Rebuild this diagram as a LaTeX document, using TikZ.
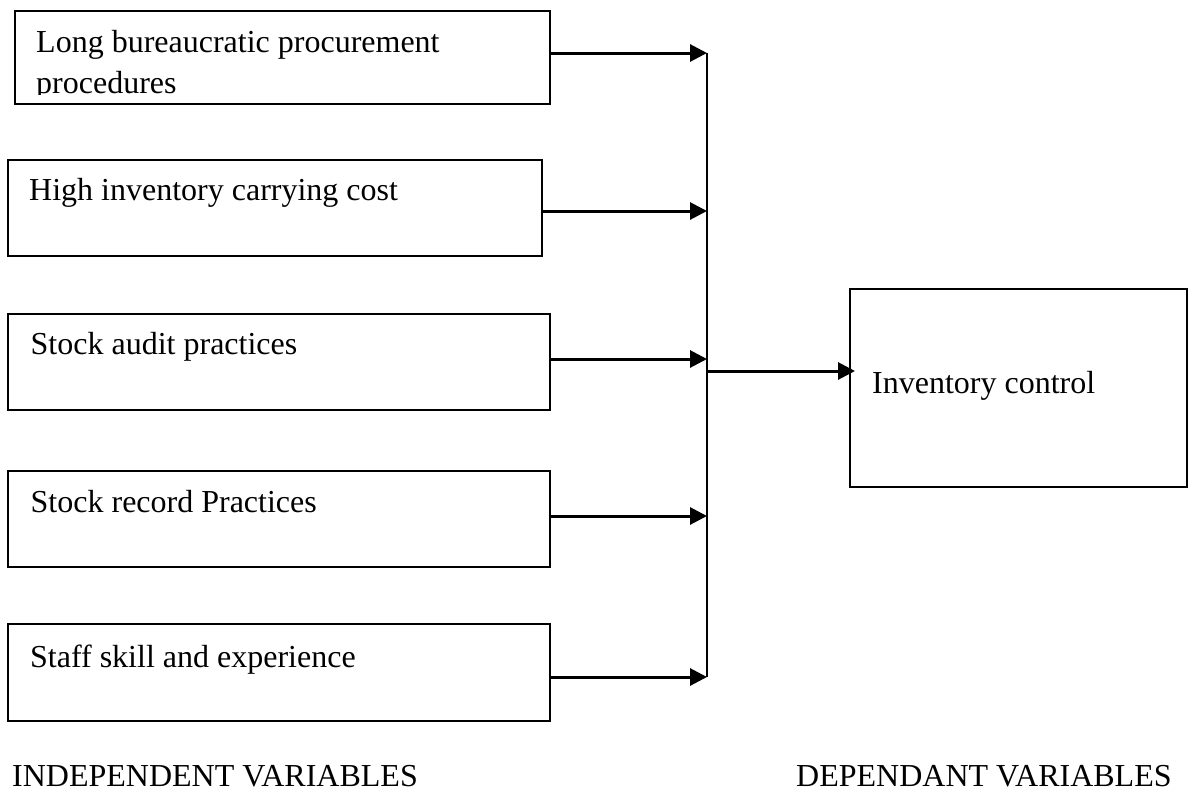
\documentclass[tikz,border=0pt]{standalone}
\usepackage{fontspec}
\setmainfont{Liberation Serif}
\usetikzlibrary{arrows.meta}
\begin{document}
\begin{tikzpicture}[x=1pt,y=-1pt,
  box/.style={draw=black,line width=2pt,rectangle,inner sep=0pt},
  lbl/.style={anchor=base west,inner sep=0pt,font=\fontsize{32}{38}\selectfont},
  arr/.style={line width=3pt,-{Triangle[length=17pt,width=17pt]}},
  bus/.style={line width=2.5pt}]
\useasboundingbox (0,0) rectangle (1189,796);
% boxes
\node[box,minimum width=535pt,minimum height=93pt] (b1) at (282.5,57.5) {};
\node[box,minimum width=534pt,minimum height=96pt] (b2) at (274.5,208) {};
\node[box,minimum width=542pt,minimum height=96pt] (b3) at (278.5,362) {};
\node[box,minimum width=542pt,minimum height=96pt] (b4) at (278.5,519) {};
\node[box,minimum width=542pt,minimum height=97pt] (b5) at (278.5,672.5) {};
\node[box,minimum width=337pt,minimum height=198pt] (rb) at (1018.5,388) {};
% texts
\node[lbl] (t1a) at (36,52) {Long bureaucratic procurement};
\begin{scope}
\clip (0,0) rectangle (1189,94.5);
\node[lbl] (t1b) at (36,93) {procedures};
\end{scope}
\node[lbl] (t2) at (29,200) {High inventory carrying cost};
\node[lbl] (t3) at (30.5,354) {Stock audit practices};
\node[lbl] (t4) at (30.5,512) {Stock record Practices};
\node[lbl] (t5) at (30,667) {Staff skill and experience};
\node[lbl] (tr) at (872,393) {Inventory control};
\node[lbl] (ind) at (12,786) {INDEPENDENT VARIABLES};
\node[lbl] (dep) at (796,786) {DEPENDANT VARIABLES};
% bus
\coordinate (j1) at (707,53);
\coordinate (j2) at (707,211);
\coordinate (j3) at (707,359);
\coordinate (j4) at (707,516);
\coordinate (j5) at (707,677);
\coordinate (jo) at (707,371);
\draw[bus] (j1) -- (j5);
\draw[arr] (b1.east |- j1) -- (j1);
\draw[arr] (b2.east |- j2) -- (j2);
\draw[arr] (b3.east |- j3) -- (j3);
\draw[arr] (b4.east |- j4) -- (j4);
\draw[arr] (b5.east |- j5) -- (j5);
\draw[arr,shorten >=-6pt] (jo) -- (rb.west |- jo);
\end{tikzpicture}
\end{document}
